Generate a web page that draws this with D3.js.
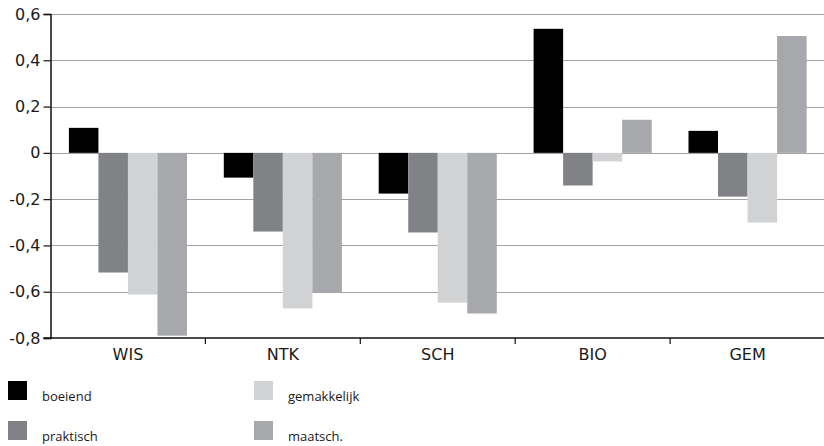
<!DOCTYPE html>
<html>
<head>
<meta charset="utf-8">
<script src="https://cdn.jsdelivr.net/npm/d3@7"></script>
<style>
  html, body { margin: 0; padding: 0; background: #fff; }
  svg { display: block; }
  .axis text { font-family: "DejaVu Sans", "Liberation Sans", sans-serif; font-size: 16px; fill: #1a1a1a; }
  .legend text { font-family: "Open Sans", sans-serif; font-size: 13px; fill: #1a1a1a; }
</style>
</head>
<body>
<svg id="chart" width="824" height="446"></svg>
<script>
const categories = ["WIS", "NTK", "SCH", "BIO", "GEM"];
const seriesNames = ["boeiend", "praktisch", "gemakkelijk", "maatsch."];
const boeiend     = [0.108, -0.107, -0.176, 0.536, 0.095];
const praktisch   = [-0.517, -0.340, -0.344, -0.141, -0.189];
const gemakkelijk = [-0.612, -0.672, -0.647, -0.037, -0.301];
const maatsch     = [-0.790, -0.603, -0.694, 0.143, 0.505];
const yTicks = [0.6, 0.4, 0.2, 0, -0.2, -0.4, -0.6, -0.8];
const colors = ["#000000", "#818286", "#d1d2d4", "#a7a8ab"];

const seriesValues = [boeiend, praktisch, gemakkelijk, maatsch];
const svg = d3.select("#chart");

const plotLeft = 50.5, plotRight = 825, plotTop = 14, plotBottom = 338;
const y = d3.scaleLinear().domain([-0.8, 0.6]).range([plotBottom, plotTop]);
const x0 = d3.scaleBand().domain(categories).range([plotLeft, plotRight]).padding(0);
const groupPad = 18.4;
const x1 = d3.scaleBand().domain(seriesNames).range([groupPad, x0.bandwidth() - groupPad]).padding(0);

const fmt = v => (v === 0 ? "0" : d3.format(".1f")(v).replace(".", ",").replace("−", "-"));

// gridlines
svg.append("g").selectAll("line").data(yTicks.filter(t => t !== -0.8)).join("line")
  .attr("x1", plotLeft).attr("x2", 824)
  .attr("y1", d => Math.round(y(d)) + 0.5).attr("y2", d => Math.round(y(d)) + 0.5)
  .attr("stroke", "#a3a3a3").attr("stroke-width", 1.2);

// bars
const groups = svg.append("g").selectAll("g").data(categories).join("g")
  .attr("transform", d => `translate(${x0(d)},0)`);
groups.selectAll("rect").data((c, ci) => seriesNames.map((s, si) => ({ s, si, v: seriesValues[si][ci] })))
  .join("rect")
  .attr("x", d => x1(d.s))
  .attr("width", x1.bandwidth())
  .attr("y", d => y(Math.max(0, d.v)))
  .attr("height", d => Math.abs(y(d.v) - y(0)))
  .attr("fill", d => colors[d.si]);

// y axis
const yAxis = d3.axisLeft(y).tickValues(yTicks).tickFormat(fmt).tickSize(7).tickPadding(3);
const gy = svg.append("g").attr("class", "axis").attr("transform", `translate(${plotLeft},0)`).call(yAxis);
gy.attr("font-size", null).attr("font-family", null);
gy.select(".domain").attr("stroke", "#111").attr("stroke-width", 1.5);
gy.selectAll(".tick line").attr("stroke", "#111").attr("stroke-width", 1.2);

// x axis
const gx = svg.append("g").attr("class", "axis").attr("transform", `translate(0,${plotBottom})`);
gx.append("line").attr("x1", plotLeft - 7).attr("x2", 824).attr("y1", 0).attr("y2", 0)
  .attr("stroke", "#111").attr("stroke-width", 1.5);
gx.selectAll("line.tk").data(categories.slice(1)).join("line").attr("class", "tk")
  .attr("x1", d => x0(d)).attr("x2", d => x0(d)).attr("y1", 0).attr("y2", 6)
  .attr("stroke", "#111").attr("stroke-width", 1.2);
gx.selectAll("text").data(categories).join("text")
  .attr("x", d => x0(d) + x0.bandwidth() / 2).attr("y", 22)
  .attr("text-anchor", "middle").text(d => d);

// legend
const legendPos = [[8, 381], [8, 421], [254, 381], [254, 421]];
const lg = svg.append("g").attr("class", "legend")
  .selectAll("g").data(seriesNames).join("g")
  .attr("transform", (d, i) => `translate(${legendPos[i][0]},${legendPos[i][1]})`);
lg.append("rect").attr("width", 19).attr("height", 19).attr("fill", (d, i) => colors[i]);
lg.append("text").attr("x", 34).attr("y", 20).text(d => d);
</script>
</body>
</html>
